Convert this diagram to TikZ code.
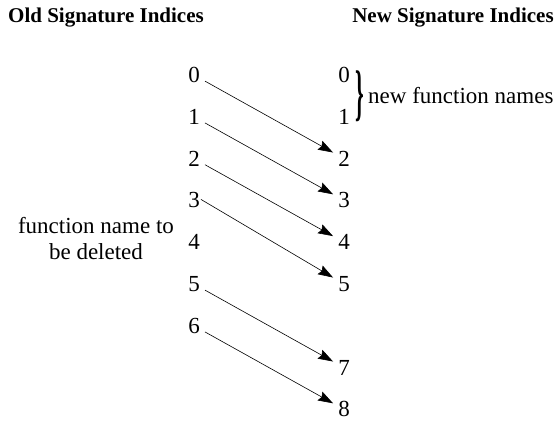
\documentclass[tikz,border=0pt]{standalone}
\usepackage{fontspec}
\setmainfont{Liberation Serif}
\usetikzlibrary{arrows.meta,calc}
\begin{document}
\begin{tikzpicture}[x=1pt,y=-1pt,
  title/.style={font=\fontsize{21}{24}\selectfont\bfseries, inner sep=0pt},
  txt/.style={font=\fontsize{23}{26}\selectfont, inner sep=0pt},
  idx/.style={font=\fontsize{23}{26}\selectfont, inner sep=5pt},
  arr/.style={-{Stealth[length=15pt,width=10pt,inset=2pt]}, line width=0.6pt}]
\useasboundingbox (0,0) rectangle (559,421);
\node[title] (old) at (106,18) {Old Signature Indices};
\node[title] (new) at (453,18) {New Signature Indices};
\foreach \i in {0,...,6} {
  \node[idx] (l\i) at (194,{75+41.8*\i}) {\i};
}
\foreach \i in {0,1,2,3,4,5,7,8} {
  \node[idx] (r\i) at (344,{75+41.8*\i}) {\i};
}
\node[inner sep=0pt] (br) at (360,96) {\scalebox{1}[2.8]{\fontsize{22}{24}\selectfont\bfseries\}}};
\node[txt, anchor=west] (nfn) at (368,96) {new function names};
\node[txt, align=center] (del) at (96,239) {function name to\\be deleted};
\draw[arr] (l0) -- (r2);
\draw[arr] (l1) -- (r3);
\draw[arr] (l2) -- (r4);
\draw[arr] ($(l3.east)+(-4,-1)$) -- (r5);
\draw[arr] (l5) -- (r7);
\draw[arr] (l6) -- (r8);
\end{tikzpicture}
\end{document}
